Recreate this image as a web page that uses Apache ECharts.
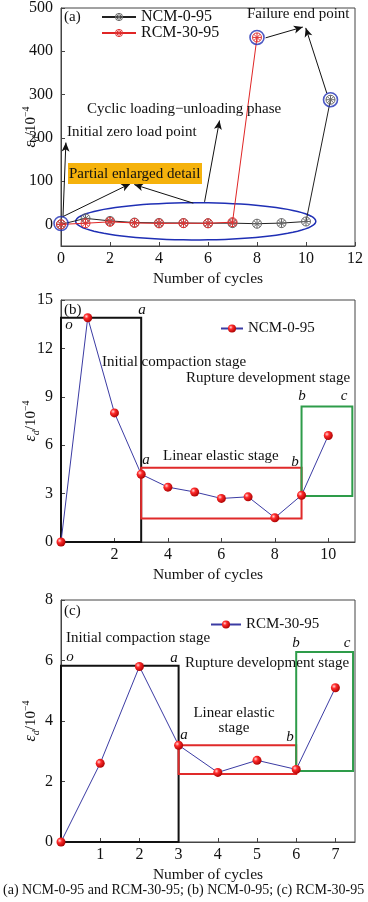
<!DOCTYPE html>
<html><head><meta charset="utf-8">
<script src="https://cdn.jsdelivr.net/npm/echarts@6/dist/echarts.min.js"></script>
<style>html,body{margin:0;padding:0;background:#fff}#c{width:368px;height:902px}</style>
</head><body><div id="c"></div>
<script>
// ---------- data ----------
const cyclesA_NCM = [0,1,2,3,4,5,6,7,8,9,10,11];
const strainA_NCM = [0,13.9,8.0,4.2,3.4,3.1,2.7,2.8,1.5,2.9,6.6,288];
const cyclesA_RCM = [0,1,2,3,4,5,6,7,8];
const strainA_RCM = [0,2.6,5.8,3.2,2.3,2.7,2.4,5.1,432];
const cyclesB = [0,1,2,3,4,5,6,7,8,9,10];
const strainB = [0,13.9,8.0,4.2,3.4,3.1,2.7,2.8,1.5,2.9,6.6];
const cyclesC = [0,1,2,3,4,5,6,7];
const strainC = [0,2.6,5.8,3.2,2.3,2.7,2.4,5.1];
const xTicksA = [0,2,4,6,8,10,12];
const yTicksA = [0,100,200,300,400,500];
const xTicksB = [2,4,6,8,10];
const yTicksB = [0,3,6,9,12,15];
const xTicksC = [1,2,3,4,5,6,7];
const yTicksC = [0,2,4,6,8];
// annotation geometry (data units)
const failurePoints = [[8,432],[11,288]];
const originPoint = [[0,2]];
const ellipseA = [[5.5,7,4.9,43]];
const arrowsA = [
  [[8.35,431],[9.87,456]],
  [[10.85,303],[9.99,454]],
  [[5.86,52],[6.47,240]],
  [[0.08,16],[0.2,189]],
  [[0.08,18],[2.83,94]],
  [[5.4,49],[2.99,92]]
];
const boxesB = [[0,0,3,13.9],[3,1.45,9,4.6],[9,2.85,10.9,8.4]];
const boxesC = [[0,0,3,5.83],[3,2.25,6,3.2],[6,2.35,7.45,6.28]];
const boxColors = ['#111111','#e02a2a','#2e9c4a'];

const FONT = '"Liberation Serif","Times New Roman",serif';
const AX = '#444';
const ball = new echarts.graphic.RadialGradient(0.35,0.35,0.7,[
  {offset:0,color:'#ffd6d6'},{offset:0.35,color:'#ff2a2a'},{offset:1,color:'#a80000'}]);
const xSym = 'path://M0,10 A10,10 0 1,1 20,10 A10,10 0 1,1 0,10 Z M3,3 L17,17 M17,3 L3,17 M10,0 L10,20 M0,10 L20,10';

function pairs(xs,ys){return xs.map((x,i)=>[x,ys[i]]);}
function yName(){
  return {
    name:'{e|ε}{d|d}{n|/10}{s|−4}', nameLocation:'middle', nameRotate:90, nameGap:20, nameMoveOverlap:false,
    nameTextStyle:{rich:{
      e:{fontFamily:FONT,fontStyle:'italic',fontSize:16,color:'#111',lineHeight:20},
      d:{fontFamily:FONT,fontStyle:'italic',fontSize:10,color:'#111',verticalAlign:'bottom',lineHeight:12},
      n:{fontFamily:FONT,fontSize:15,color:'#111',lineHeight:20},
      s:{fontFamily:FONT,fontSize:10,color:'#111',verticalAlign:'top',lineHeight:12}
    }}
  };
}
function axis(gi,min,max,ticks,isX){
  const o = {
    type:'value', gridIndex:gi, min:min, max:max,
    axisLine:{show:true,onZero:false,lineStyle:{color:AX,width:1}},
    axisTick:{show:true,inside:true,length:4,customValues:ticks,lineStyle:{color:AX}},
    axisLabel:{customValues:ticks,fontFamily:FONT,fontSize:16,color:'#111',margin:isX?5:8},
    splitLine:{show:false}
  };
  if(isX){
    Object.assign(o,{name:'Number of cycles',nameLocation:'middle',nameGap:25,nameMoveOverlap:false,
      nameTextStyle:{fontFamily:FONT,fontSize:15.5,color:'#111'}});
  } else Object.assign(o,yName());
  return o;
}
function boxArea(boxes){
  return {silent:true, data: boxes.map((b,i)=>[
    {coord:[b[0],b[1]], itemStyle:{color:'rgba(0,0,0,0)',borderColor:boxColors[i],borderWidth:2}},
    {coord:[b[2],b[3]]}
  ])};
}

const series = [
  {name:'NCM-0-95', type:'line', xAxisIndex:0, yAxisIndex:0, data:pairs(cyclesA_NCM,strainA_NCM),
   symbol:xSym, symbolSize:9, lineStyle:{color:'#222',width:1},
   itemStyle:{color:'rgba(255,255,255,0)',borderColor:'#666',borderWidth:1}, z:3},
  {name:'RCM-30-95', type:'line', xAxisIndex:0, yAxisIndex:0, data:pairs(cyclesA_RCM,strainA_RCM),
   symbol:xSym, symbolSize:9, lineStyle:{color:'#e02525',width:1},
   itemStyle:{color:'rgba(255,255,255,0)',borderColor:'#e03535',borderWidth:1}, z:4},
  {type:'scatter', xAxisIndex:0, yAxisIndex:0, data:failurePoints.concat(originPoint), symbol:'circle', symbolSize:14,
   itemStyle:{color:'rgba(0,0,0,0)',borderColor:'#1f2fb5',borderWidth:1.6}, silent:true, z:5},
  {type:'custom', xAxisIndex:0, yAxisIndex:0, data:ellipseA, silent:true, z:2,
   renderItem:(params,api)=>{
     const cx=api.value(0),cy=api.value(1),rx=api.value(2),ry=api.value(3);const pts=[];
     for(let i=0;i<=90;i++){const t=i/90*2*Math.PI;pts.push(api.coord([cx+rx*Math.cos(t),cy+ry*Math.sin(t)]));}
     return {type:'polygon',shape:{points:pts},style:{fill:'none',stroke:'#1f2fb5',lineWidth:1.5}};
   }},
  {type:'line', xAxisIndex:0, yAxisIndex:0, data:[], silent:true,
   markLine:{silent:true, symbol:['none','arrow'], symbolSize:[6,9], label:{show:false},
     lineStyle:{color:'#111',width:1,type:'solid'},
     data: arrowsA.map(a=>[{coord:a[0]},{coord:a[1]}])}},
  {name:'NCM-0-95 (b)', type:'line', xAxisIndex:1, yAxisIndex:1, data:pairs(cyclesB,strainB),
   symbol:'circle', symbolSize:9, lineStyle:{color:'#3b3ba3',width:1}, itemStyle:{color:ball},
   markArea:boxArea(boxesB), z:3},
  {name:'RCM-30-95 (c)', type:'line', xAxisIndex:2, yAxisIndex:2, data:pairs(cyclesC,strainC),
   symbol:'circle', symbolSize:9, lineStyle:{color:'#3b3ba3',width:1}, itemStyle:{color:ball},
   markArea:boxArea(boxesC), z:3}
];

function T(text,x,y,o){
  o=o||{};
  return {type:'text',x:x,y:y,silent:true,z:10,style:{text:text,
    font:(o.italic?'italic ':'')+(o.size||15)+'px '+FONT, fill:o.color||'#111',
    align:o.align||'left', verticalAlign:'middle'}};
}
const graphic = [
  T('(a)',64,17,{size:15}),
  T('Failure end point',247,14),
  T('Cyclic loading\u2212unloading phase',87,109),
  T('Initial zero load point',67,132),
  {type:'rect',shape:{x:68,y:163,width:134,height:21},style:{fill:'#f5b20c'},z:9,silent:true},
  T('Partial enlarged detail',69,174),
  T('(b)',64,310,{size:15}),
  T('o',69,325,{italic:true,align:'center'}),
  T('a',142,310,{italic:true,align:'center'}),
  T('Initial compaction stage',102,362),
  T('Rupture development stage',186,378),
  T('b',302,396,{italic:true,align:'center'}),
  T('c',344,396,{italic:true,align:'center'}),
  T('Linear elastic stage',163,456),
  T('a',146,460,{italic:true,align:'center'}),
  T('b',295,462,{italic:true,align:'center'}),
  T('(c)',64,611,{size:15}),
  T('Initial compaction stage',66,638),
  T('b',296,643,{italic:true,align:'center'}),
  T('c',347,643,{italic:true,align:'center'}),
  T('o',70,657,{italic:true,align:'center'}),
  T('a',174,658,{italic:true,align:'center'}),
  T('Rupture development stage',185,663),
  T('Linear elastic',234,713,{align:'center'}),
  T('stage',234,728,{align:'center'}),
  T('a',184,735,{italic:true,align:'center'}),
  T('b',290,737,{italic:true,align:'center'}),
  T('(a) NCM-0-95 and RCM-30-95; (b) NCM-0-95; (c) RCM-30-95',3,890,{size:14})
];

const legText = {fontFamily:FONT,fontSize:15,color:'#111'};
const option = {
  animation:false,
  backgroundColor:'#fff',
  grid:[
    {left:61,top:3,width:294,height:243,show:true,borderColor:AX,borderWidth:1,backgroundColor:'rgba(0,0,0,0)'},
    {left:61,top:300,width:294,height:242,show:true,borderColor:AX,borderWidth:1,backgroundColor:'rgba(0,0,0,0)'},
    {left:61,top:600,width:294,height:242,show:true,borderColor:AX,borderWidth:1,backgroundColor:'rgba(0,0,0,0)'}
  ],
  xAxis:[axis(0,0,12,xTicksA,true),axis(1,0,11,xTicksB,true),axis(2,0,7.5,xTicksC,true)],
  yAxis:[axis(0,-50,500,yTicksA,false),axis(1,0,15,yTicksB,false),axis(2,0,8,yTicksC,false)],
  legend:[
    {data:[
      {name:'NCM-0-95',itemStyle:{color:'rgba(0,0,0,0)',borderColor:'#666',borderWidth:1}},
      {name:'RCM-30-95',itemStyle:{color:'rgba(0,0,0,0)',borderColor:'#e03535',borderWidth:1}}],
     left:101,top:9,padding:0,orient:'vertical',itemWidth:34,itemHeight:9,itemGap:0,
     textStyle:{fontFamily:FONT,fontSize:16,color:'#111'}},
    {data:['NCM-0-95 (b)'],left:220,top:321,padding:0,itemWidth:22,itemHeight:10,
     formatter:n=>n.replace(' (b)',''),textStyle:legText},
    {data:['RCM-30-95 (c)'],left:210,top:617,padding:0,itemWidth:30,itemHeight:10,
     formatter:n=>n.replace(' (c)',''),textStyle:legText}
  ],
  series:series,
  graphic:graphic
};
const chart = echarts.init(document.getElementById('c'),null,{renderer:'canvas'});
chart.setOption(option);
</script></body></html>
